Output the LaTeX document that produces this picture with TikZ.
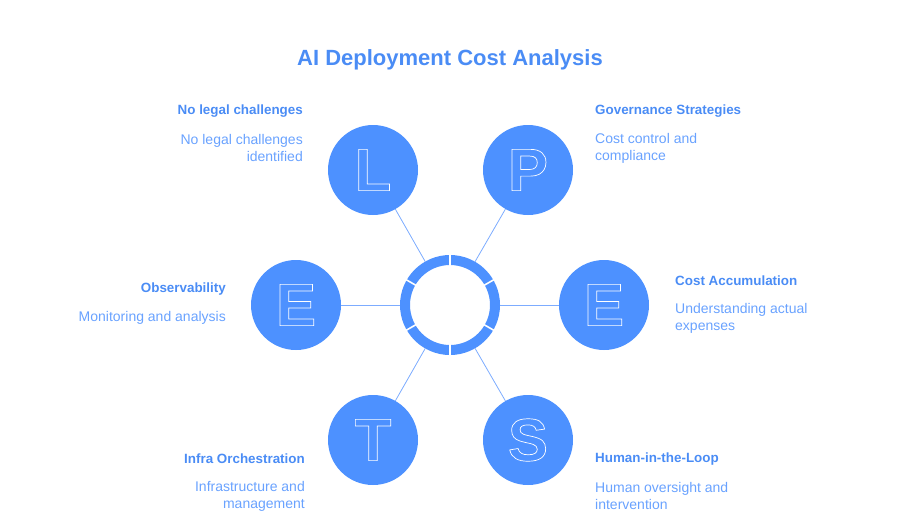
\documentclass[tikz,border=0pt]{standalone}
\usepackage{fontspec}
\setmainfont{Liberation Sans}
\usepackage{tikz}

\definecolor{dotblue}{RGB}{77,145,255}
\definecolor{headblue}{RGB}{74,140,245}
\definecolor{textblue}{RGB}{105,162,255}
\definecolor{wireblue}{RGB}{125,172,255}

\tikzset{
  petal/.style={circle,fill=dotblue,text=dotblue,minimum size=90pt,inner sep=0pt,font=\bfseries\fontsize{60}{60}\selectfont},
  wire/.style={draw=wireblue,line width=0.8pt},
  headline/.style={text=headblue,font=\bfseries\fontsize{13.4}{16}\selectfont,inner sep=0pt},
  blurb/.style={text=textblue,font=\fontsize{14}{17}\selectfont,inner sep=0pt}
}
% outlined letter: fill and white stroke
\newcommand{\hollow}[1]{\special{pdf:literal direct 2 Tr 0.7 w 1 1 1 RG}#1\special{pdf:literal direct 0 Tr}}

\begin{document}
\begin{tikzpicture}[x=1pt,y=-1pt]
\useasboundingbox (0,0) rectangle (901,522);
\node[text=headblue,font=\bfseries\fontsize{22}{26}\selectfont] (title) at (450,60) {AI Deployment Cost Analysis};
% hub and petals
\node[circle,draw=dotblue,line width=10pt,minimum size=90pt,inner sep=0pt] (hub) at (450,305) {};
\foreach \a in {30,90,...,330}
  \draw[white,line width=1.6pt] (hub.center) ++(\a:39) -- ++(\a:12);
\node[petal] (L) at (373,170) {\hollow{L}};
\node[petal] (P) at (528,170) {\hollow{P}};
\node[petal] (El) at (296,305) {\hollow{E}};
\node[petal] (Er) at (604,305) {\hollow{E}};
\node[petal] (T) at (373,440) {\hollow{T}};
\node[petal] (S) at (528,440) {\hollow{S}};
\foreach \p in {L,P,El,Er,T,S}
  \draw[wire] (hub) -- (\p);
% labels
\node[headline,anchor=east] (Lhead) at (303,111) {No legal challenges};
\node[blurb,anchor=east,align=right] (Ltext) at (303,148) {No legal challenges\\identified};
\node[headline,anchor=west] (Phead) at (595,111) {Governance Strategies};
\node[blurb,anchor=west,align=left] (Ptext) at (595,148) {Cost control and\\compliance};
\node[headline,anchor=east] (Elhead) at (226,289) {Observability};
\node[blurb,anchor=east,align=right] (Eltext) at (226,318) {Monitoring and analysis};
\node[headline,anchor=west] (Erhead) at (675,281) {Cost Accumulation};
\node[blurb,anchor=west,align=left] (Ertext) at (675,318) {Understanding actual\\expenses};
\node[headline,anchor=east] (Thead) at (305,459) {Infra Orchestration};
\node[blurb,anchor=east,align=right] (Ttext) at (305,496) {Infrastructure and\\management};
\node[headline,anchor=west] (Shead) at (595,459) {Human-in-the-Loop};
\node[blurb,anchor=west,align=left] (Stext) at (595,496) {Human oversight and\\intervention};
\end{tikzpicture}
\end{document}
